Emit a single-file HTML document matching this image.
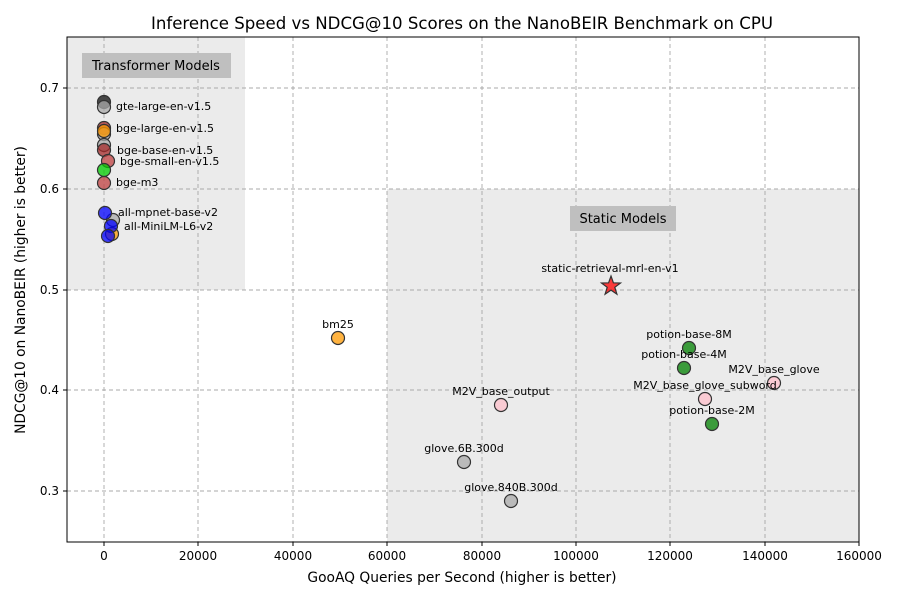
<!DOCTYPE html>
<html><head><meta charset="utf-8"><style>
html,body{margin:0;padding:0;background:#fff;}
svg text{font-family:"DejaVu Sans","Liberation Sans",sans-serif;fill:#000;}
</style></head><body>
<svg width="900" height="600" viewBox="0 0 900 600" xmlns="http://www.w3.org/2000/svg">
<rect x="0" y="0" width="900" height="600" fill="#fff"/>
<rect x="67" y="37" width="178" height="253" fill="#ebebeb"/>
<rect x="387" y="189" width="472" height="353" fill="#ebebeb"/>
<g stroke="#a8a8a8" stroke-dasharray="4,3" stroke-width="0.9">
<line x1="104" y1="37" x2="104" y2="542"/><line x1="198" y1="37" x2="198" y2="542"/>
<line x1="293" y1="37" x2="293" y2="542"/><line x1="387" y1="37" x2="387" y2="542"/>
<line x1="482" y1="37" x2="482" y2="542"/><line x1="576" y1="37" x2="576" y2="542"/>
<line x1="670" y1="37" x2="670" y2="542"/><line x1="765" y1="37" x2="765" y2="542"/>
<line x1="67" y1="88" x2="859" y2="88"/><line x1="67" y1="189" x2="859" y2="189"/>
<line x1="67" y1="290" x2="859" y2="290"/><line x1="67" y1="390" x2="859" y2="390"/>
<line x1="67" y1="491" x2="859" y2="491"/>
</g>
<rect x="82" y="53" width="149" height="25" fill="#bfbfbf"/>
<text x="156" y="70" font-size="13" text-anchor="middle">Transformer Models</text>
<rect x="570" y="206" width="106" height="25" fill="#bfbfbf"/>
<text x="623" y="223" font-size="13" text-anchor="middle">Static Models</text>
<g stroke="#333" stroke-width="1.2" fill-opacity="0.75">
<circle cx="104" cy="102" r="6.5" fill="#111"/>
<circle cx="104" cy="107" r="6.5" fill="#aaa"/>
<circle cx="104" cy="128" r="6.5" fill="#a52a2a"/>
<circle cx="104" cy="134" r="6.5" fill="#aaa"/>
<circle cx="104" cy="131" r="6.5" fill="#ff9900"/>
<circle cx="104" cy="145" r="6.5" fill="#aaa"/>
<circle cx="104" cy="150" r="6.5" fill="#a52a2a"/>
<circle cx="108" cy="161" r="6.5" fill="#c04040"/>
<circle cx="104" cy="170" r="6.5" fill="#00cc00"/>
<circle cx="104" cy="183" r="6.5" fill="#c04040"/>
<circle cx="113" cy="220" r="6.5" fill="#aaa"/>
<circle cx="112" cy="234" r="6.5" fill="#ff9900"/>
<circle cx="105" cy="213" r="6.5" fill="#0000ff"/>
<circle cx="111" cy="226" r="6.5" fill="#0000ff"/>
<circle cx="108" cy="236" r="6.5" fill="#0000ff"/>
<circle cx="338" cy="338" r="6.5" fill="#ff9900"/>
<circle cx="689" cy="348" r="6.5" fill="#008000"/>
<circle cx="684" cy="368" r="6.5" fill="#008000"/>
<circle cx="712" cy="424" r="6.5" fill="#008000"/>
<circle cx="774" cy="383" r="6.5" fill="#ffc0cb"/>
<circle cx="705" cy="399" r="6.5" fill="#ffc0cb"/>
<circle cx="501" cy="405" r="6.5" fill="#ffc0cb"/>
<circle cx="464" cy="462" r="6.5" fill="#aaa"/>
<circle cx="511" cy="501" r="6.5" fill="#aaa"/>
<polygon points="611,276 613.4,282.8 620.5,283 614.8,287.3 616.9,294.2 611,290.1 605.1,294.2 607.2,287.3 601.5,283 608.6,282.8" fill="#ff0000"/>
</g>
<g font-size="11">
<text x="116" y="110">gte-large-en-v1.5</text>
<text x="116" y="132">bge-large-en-v1.5</text>
<text x="117" y="154">bge-base-en-v1.5</text>
<text x="120" y="165">bge-small-en-v1.5</text>
<text x="116" y="186">bge-m3</text>
<text x="118" y="216">all-mpnet-base-v2</text>
<text x="124" y="230">all-MiniLM-L6-v2</text>
<text x="338" y="328" text-anchor="middle">bm25</text>
<text x="610" y="272" text-anchor="middle">static-retrieval-mrl-en-v1</text>
<text x="689" y="338" text-anchor="middle">potion-base-8M</text>
<text x="684" y="358" text-anchor="middle">potion-base-4M</text>
<text x="712" y="414" text-anchor="middle">potion-base-2M</text>
<text x="774" y="373" text-anchor="middle">M2V_base_glove</text>
<text x="705" y="389" text-anchor="middle">M2V_base_glove_subword</text>
<text x="501" y="395" text-anchor="middle">M2V_base_output</text>
<text x="464" y="452" text-anchor="middle">glove.6B.300d</text>
<text x="511" y="491" text-anchor="middle">glove.840B.300d</text>
</g>
<rect x="67" y="37" width="792" height="505" fill="none" stroke="#000" stroke-width="1"/>
<g stroke="#000" stroke-width="1">
<line x1="104" y1="542" x2="104" y2="546"/><line x1="198" y1="542" x2="198" y2="546"/>
<line x1="293" y1="542" x2="293" y2="546"/><line x1="387" y1="542" x2="387" y2="546"/>
<line x1="482" y1="542" x2="482" y2="546"/><line x1="576" y1="542" x2="576" y2="546"/>
<line x1="670" y1="542" x2="670" y2="546"/><line x1="765" y1="542" x2="765" y2="546"/>
<line x1="859" y1="542" x2="859" y2="546"/>
<line x1="63" y1="88" x2="67" y2="88"/><line x1="63" y1="189" x2="67" y2="189"/>
<line x1="63" y1="290" x2="67" y2="290"/><line x1="63" y1="390" x2="67" y2="390"/>
<line x1="63" y1="491" x2="67" y2="491"/>
</g>
<g font-size="12" text-anchor="middle">
<text x="104" y="560">0</text><text x="198" y="560">20000</text><text x="293" y="560">40000</text>
<text x="387" y="560">60000</text><text x="482" y="560">80000</text><text x="576" y="560">100000</text>
<text x="670" y="560">120000</text><text x="765" y="560">140000</text><text x="859" y="560">160000</text>
</g>
<g font-size="12" text-anchor="end">
<text x="59" y="92">0.7</text><text x="59" y="193">0.6</text><text x="59" y="294">0.5</text>
<text x="59" y="394">0.4</text><text x="59" y="495">0.3</text>
</g>
<text x="462" y="582" font-size="13.8" text-anchor="middle">GooAQ Queries per Second (higher is better)</text>
<text transform="translate(25,290) rotate(-90)" font-size="13.8" text-anchor="middle">NDCG@10 on NanoBEIR (higher is better)</text>
<text x="462" y="29" font-size="16.6" text-anchor="middle">Inference Speed vs NDCG@10 Scores on the NanoBEIR Benchmark on CPU</text>
</svg>
</body></html>
